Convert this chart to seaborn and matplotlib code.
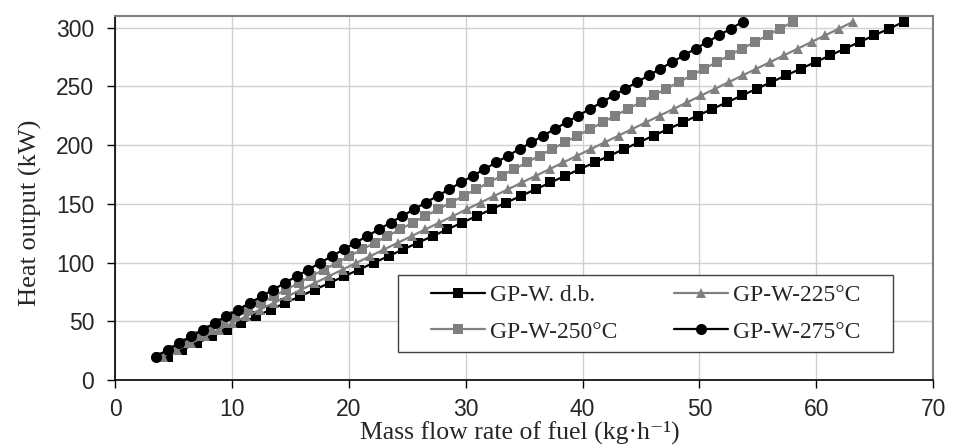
import matplotlib
matplotlib.use("Agg")
import matplotlib.pyplot as plt
from matplotlib.patches import Rectangle
import seaborn as sns
import pandas as pd

# Heat output (kW), shared by all four fuels
heat_output = [20.0, 25.7, 31.4, 37.1, 42.8, 48.5, 54.2, 59.9, 65.6, 71.3,
               77.0, 82.7, 88.4, 94.1, 99.8, 105.5, 111.2, 116.9, 122.6, 128.3,
               134.0, 139.7, 145.4, 151.1, 156.8, 162.5, 168.2, 173.9, 179.6, 185.3,
               191.0, 196.7, 202.4, 208.1, 213.8, 219.5, 225.2, 230.9, 236.6, 242.3,
               248.0, 253.7, 259.4, 265.1, 270.8, 276.5, 282.2, 287.9, 293.6, 299.3,
               305.0]

# Mass flow rate of fuel (kg/h) for each fuel
flow_db = [4.50, 5.76, 7.02, 8.28, 9.54, 10.80, 12.06, 13.32, 14.58, 15.84,
           17.10, 18.36, 19.62, 20.88, 22.14, 23.40, 24.66, 25.92, 27.18, 28.44,
           29.70, 30.96, 32.22, 33.48, 34.74, 36.00, 37.26, 38.52, 39.78, 41.04,
           42.30, 43.56, 44.82, 46.08, 47.34, 48.60, 49.86, 51.12, 52.38, 53.64,
           54.90, 56.16, 57.42, 58.68, 59.94, 61.20, 62.46, 63.72, 64.98, 66.24,
           67.50]
flow_225 = [4.14, 5.32, 6.50, 7.68, 8.86, 10.04, 11.22, 12.40, 13.58, 14.76,
            15.94, 17.12, 18.30, 19.48, 20.66, 21.84, 23.02, 24.20, 25.38, 26.56,
            27.74, 28.92, 30.10, 31.28, 32.46, 33.64, 34.82, 36.00, 37.18, 38.36,
            39.54, 40.72, 41.90, 43.08, 44.26, 45.44, 46.62, 47.80, 48.98, 50.16,
            51.34, 52.52, 53.70, 54.88, 56.06, 57.24, 58.42, 59.60, 60.78, 61.96,
            63.14]
flow_250 = [3.80, 4.88, 5.97, 7.05, 8.14, 9.22, 10.30, 11.39, 12.47, 13.56,
            14.64, 15.72, 16.81, 17.89, 18.98, 20.06, 21.14, 22.23, 23.31, 24.40,
            25.48, 26.56, 27.65, 28.73, 29.82, 30.90, 31.98, 33.07, 34.15, 35.24,
            36.32, 37.40, 38.49, 39.57, 40.66, 41.74, 42.82, 43.91, 44.99, 46.08,
            47.16, 48.24, 49.33, 50.41, 51.50, 52.58, 53.66, 54.75, 55.83, 56.92,
            58.00]
flow_275 = [3.50, 4.50, 5.51, 6.51, 7.52, 8.52, 9.52, 10.53, 11.53, 12.54,
            13.54, 14.54, 15.55, 16.55, 17.56, 18.56, 19.56, 20.57, 21.57, 22.58,
            23.58, 24.58, 25.59, 26.59, 27.60, 28.60, 29.60, 30.61, 31.61, 32.62,
            33.62, 34.62, 35.63, 36.63, 37.64, 38.64, 39.64, 40.65, 41.65, 42.66,
            43.66, 44.66, 45.67, 46.67, 47.68, 48.68, 49.68, 50.69, 51.69, 52.70,
            53.70]

series_names = ["GP-W. d.b.", "GP-W-225°C", "GP-W-250°C", "GP-W-275°C"]
x_ticks = [0, 10, 20, 30, 40, 50, 60, 70]
y_ticks = [0, 50, 100, 150, 200, 250, 300]

sns.set_theme(style="white")
plt.rcParams["font.family"] = ["Liberation Sans", "DejaVu Sans"]

frames = []
for name, flow in zip(series_names, [flow_db, flow_225, flow_250, flow_275]):
    frames.append(pd.DataFrame({"flow": flow, "heat": heat_output, "fuel": name}))
df = pd.concat(frames, ignore_index=True)

styles = {
    "GP-W. d.b.": dict(color="black", marker="s", markersize=6.5),
    "GP-W-225°C": dict(color="#808080", marker="^", markersize=6.5),
    "GP-W-250°C": dict(color="#808080", marker="s", markersize=6.5),
    "GP-W-275°C": dict(color="black", marker="o", markersize=8),
}

fig = plt.figure(figsize=(9.61, 4.48), dpi=100)
ax = fig.add_axes([0.1197, 0.1518, 0.8513, 0.8125])

handles = {}
for name in series_names:
    sub = df[df["fuel"] == name]
    st = styles[name]
    sns.lineplot(data=sub, x="flow", y="heat", ax=ax, color=st["color"],
                 marker=st["marker"], markersize=st["markersize"],
                 markeredgewidth=0, linewidth=1.6, label=name,
                 estimator=None, sort=False, legend=False, zorder=3)
    handles[name] = ax.lines[-1]

ax.set_xlim(0, 70)
ax.set_ylim(0, 310)
ax.set_xticks(x_ticks)
ax.set_yticks(y_ticks)
ax.grid(True, color="#d0d0d0", linewidth=1)
ax.set_axisbelow(True)

for side in ["top", "right"]:
    ax.spines[side].set_color("#808080")
    ax.spines[side].set_linewidth(1.5)
for side in ["left", "bottom"]:
    ax.spines[side].set_color("black")
    ax.spines[side].set_linewidth(1.2)

ax.tick_params(axis="both", which="major", direction="out", length=6, width=1,
               color="black", labelsize=16.5, left=True, bottom=True)
ax.tick_params(axis="y", pad=9)
ax.tick_params(axis="x", pad=7)

serif = ["Liberation Serif", "DejaVu Serif"]
ax.set_xlabel("Mass flow rate of fuel (kg·h⁻¹)", fontsize=18.5, family=serif)
ax.set_ylabel("Heat output (kW)", fontsize=19, family=serif)
ax.xaxis.set_label_coords(0.495, -0.112)
ax.yaxis.set_label_coords(-0.089, 0.46)

# Legend box and entries
ax.add_patch(Rectangle((0.346, 0.0769), 0.605, 0.2116, transform=ax.transAxes,
                       facecolor="white", edgecolor="#404040", linewidth=1,
                       zorder=4))
order = ["GP-W. d.b.", "GP-W-250°C", "GP-W-225°C", "GP-W-275°C"]
leg = ax.legend([handles[n] for n in order], order, ncol=2,
                loc="center", bbox_to_anchor=(0.6485, 0.1827),
                prop={"family": serif, "size": 17}, frameon=False,
                handlelength=2.3, handletextpad=0.2, columnspacing=2.4,
                borderpad=0.2, labelspacing=0.65)
leg.set_zorder(5)

fig.savefig("out.png", dpi=100)
